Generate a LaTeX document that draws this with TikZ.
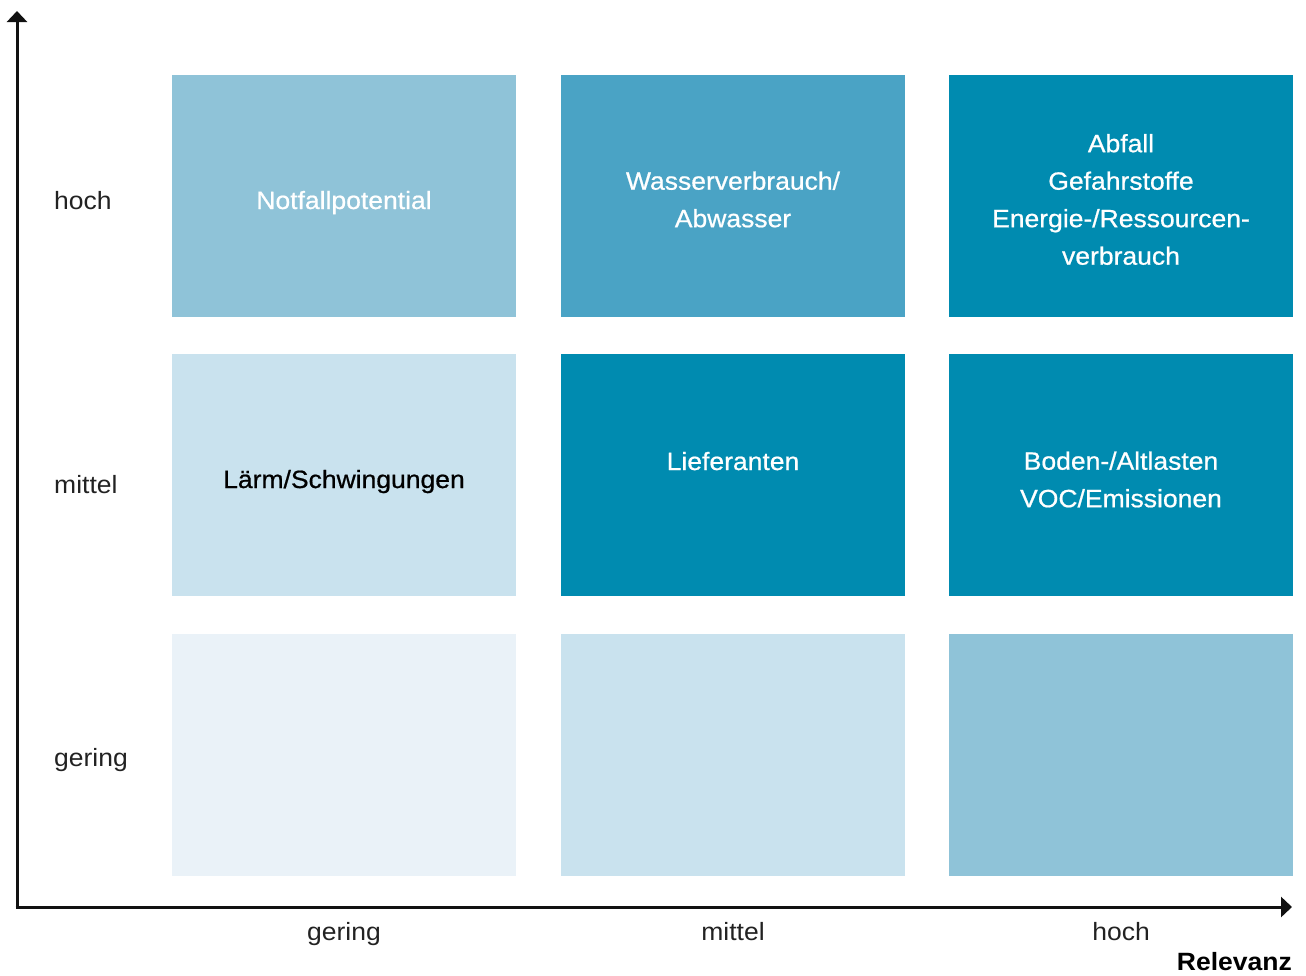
\documentclass[tikz,border=0pt]{standalone}
\usepackage{fontspec}
\setmainfont{Liberation Sans}[FakeStretch=1.06]
\newfontfamily\cellfont{Liberation Sans}[FakeStretch=1.06,FakeBold=0.7]
\usetikzlibrary{arrows.meta}
\definecolor{cA}{HTML}{EAF2F8}
\definecolor{cB}{HTML}{C9E2EE}
\definecolor{cC}{HTML}{8FC3D8}
\definecolor{cD}{HTML}{4AA3C5}
\definecolor{cE}{HTML}{008BB0}
\definecolor{axiscol}{HTML}{111111}
\definecolor{labcol}{HTML}{222222}
\tikzset{
  cell/.style={draw=none,minimum width=344pt,minimum height=242pt,inner sep=0pt,outer sep=0pt},
  celltext/.style={font=\cellfont\fontsize{25}{37.5}\selectfont,align=center,inner sep=0pt,text=white},
  axlab/.style={font=\fontsize{25}{30}\selectfont,inner sep=0pt,text=labcol},
  axisline/.style={line width=3pt,draw=axiscol,-{Triangle[width=20pt,length=11pt]}}
}
\begin{document}
\begin{tikzpicture}[x=1pt,y=-1pt]
\useasboundingbox (0,0) rectangle (1306,975);
% cells
\node[cell,fill=cC] (c13) at (344,196) {};
\node[cell,fill=cD] (c23) at (733,196) {};
\node[cell,fill=cE] (c33) at (1121,196) {};
\node[cell,fill=cB] (c12) at (344,475) {};
\node[cell,fill=cE] (c22) at (733,475) {};
\node[cell,fill=cE] (c32) at (1121,475) {};
\node[cell,fill=cA] (c11) at (344,755) {};
\node[cell,fill=cB] (c21) at (733,755) {};
\node[cell,fill=cC] (c31) at (1121,755) {};
% cell texts
\node[celltext,anchor=base] (t13) at (344,209) {Notfallpotential};
\node[celltext] (t23) at (733,199.5) {Wasserverbrauch/\\Abwasser};
\node[celltext] (t33) at (1121,199.5) {Abfall\\Gefahrstoffe\\Energie-/Ressourcen-\\verbrauch};
\node[celltext,anchor=base,text=black] (t12) at (344,488) {Lärm/Schwingungen};
\node[celltext,anchor=base] (t22) at (733,470) {Lieferanten};
\node[celltext] (t32) at (1121,479.5) {Boden-/Altlasten\\VOC/Emissionen};
% axes
\coordinate (origin) at (17,907);
\coordinate (ytip) at (17,11);
\coordinate (xtip) at (1292,907);
\draw[axisline] (origin) -- (ytip);
\draw[axisline] ([xshift=-1.5pt]origin) -- (xtip);
% axis labels
\node[axlab,anchor=base west] (yh) at (54,209) {hoch};
\node[axlab,anchor=base west] (ym) at (54,493) {mittel};
\node[axlab,anchor=base west] (yg) at (54,766) {gering};
\node[axlab,anchor=base] (xg) at (344,940) {gering};
\node[axlab,anchor=base] (xm) at (733,940) {mittel};
\node[axlab,anchor=base] (xh) at (1121,940) {hoch};
\node[axlab,anchor=base east,font=\fontsize{25}{30}\selectfont\bfseries,text=black] (rel) at (1292,970) {Relevanz};
\end{tikzpicture}
\end{document}
